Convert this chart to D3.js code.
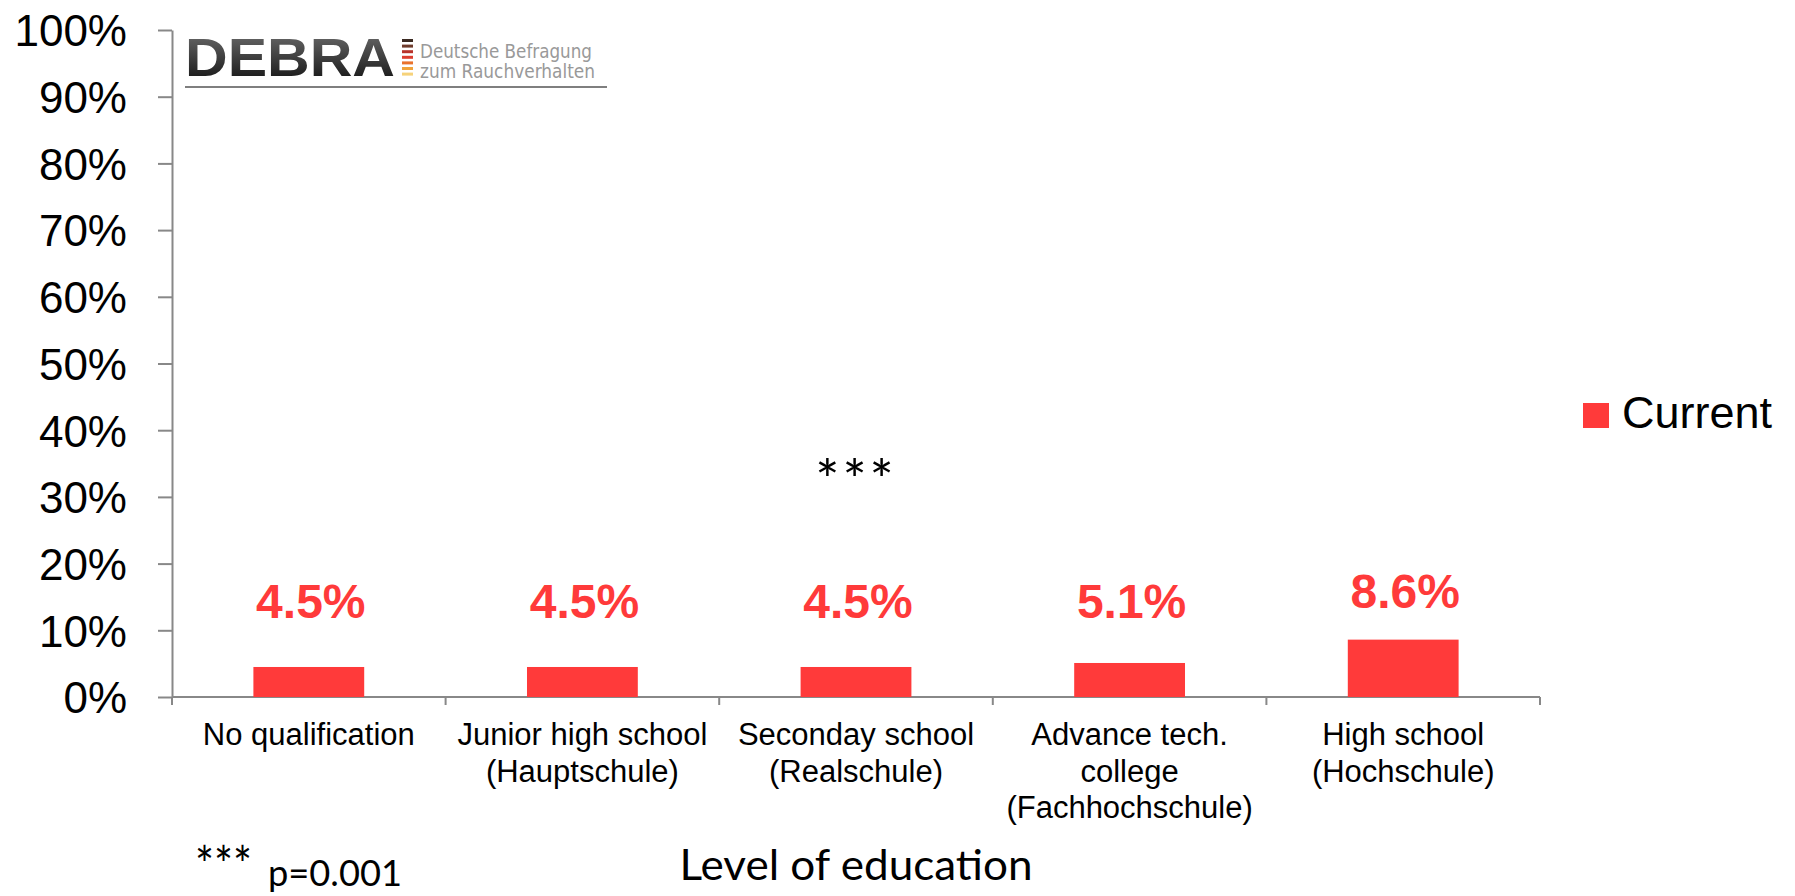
<!DOCTYPE html>
<html>
<head>
<meta charset="utf-8">
<script src="https://cdn.jsdelivr.net/npm/d3@7"></script>
<style>
  body { margin: 0; background: #fff; }
  svg { display: block; font-family: "Liberation Sans", Arial, sans-serif; }
</style>
</head>
<body>
<svg id="chart"></svg>
<script>
const categories = [
  ['No qualification'],
  ['Junior high school', '(Hauptschule)'],
  ['Seconday school', '(Realschule)'],
  ['Advance tech.', 'college', '(Fachhochschule)'],
  ['High school', '(Hochschule)']
];
const currentValues = [4.5, 4.5, 4.5, 5.1, 8.6];
const valueLabels = ['4.5%', '4.5%', '4.5%', '5.1%', '8.6%'];
const yTicks = [0, 10, 20, 30, 40, 50, 60, 70, 80, 90, 100];
const seriesName = 'Current';
const starCategory = 2;
const stripeColors = ['#3b2a22', '#6e3b2b', '#b8322a', '#dc3d2e', '#e9722d', '#f0a23a', '#f6d27a'];

const chartSize = {width: 1795, height: 896};
const plot = {left: 172, right: 1540, top: 30, bottom: 697};
const red = '#ff3a3a';
const axisColor = '#888888';
const starFont = 'Lato, "Open Sans", sans-serif';

const svg = d3.select('#chart')
    .attr('width', chartSize.width)
    .attr('height', chartSize.height);

const x = d3.scaleBand()
    .domain(d3.range(categories.length))
    .range([plot.left, plot.right])
    .paddingInner(0.595)
    .paddingOuter(0.2975);

const y = d3.scaleLinear()
    .domain([0, 100])
    .range([plot.bottom, plot.top]);

// y axis
const yAxis = svg.append('g')
    .attr('transform', `translate(${plot.left},0)`)
    .call(d3.axisLeft(y).tickValues(yTicks).tickSize(14).tickSizeOuter(0).tickPadding(31)
        .tickFormat(d => d + '%'));
yAxis.select('.domain').attr('stroke', axisColor).attr('stroke-width', 2);
yAxis.selectAll('.tick line').attr('stroke', axisColor).attr('stroke-width', 2);
yAxis.selectAll('.tick text')
    .attr('font-size', 44)
    .attr('font-family', '"Liberation Sans", Arial, sans-serif')
    .attr('fill', '#000')
    .attr('dy', '0.36em');

// x axis line with ticks at category boundaries
const step = x.step();
const boundaries = d3.range(categories.length + 1).map(i => plot.left + i * step);
svg.append('line')
    .attr('x1', plot.left).attr('x2', plot.right)
    .attr('y1', y(0)).attr('y2', y(0))
    .attr('stroke', axisColor).attr('stroke-width', 2);
svg.selectAll('.xtick')
    .data(boundaries)
    .join('line')
    .attr('class', 'xtick')
    .attr('x1', d => d).attr('x2', d => d)
    .attr('y1', y(0)).attr('y2', y(0) + 8)
    .attr('stroke', axisColor).attr('stroke-width', 2);

// bars
svg.selectAll('.bar')
    .data(currentValues)
    .join('rect')
    .attr('class', 'bar')
    .attr('x', (d, i) => x(i))
    .attr('y', d => y(d))
    .attr('width', x.bandwidth())
    .attr('height', d => y(0) - y(d))
    .attr('fill', red);

// value labels
svg.selectAll('.value')
    .data(currentValues)
    .join('text')
    .attr('class', 'value')
    .attr('x', (d, i) => x(i) + x.bandwidth() / 2 + 2)
    .attr('y', d => Math.min(y(11.8), y(d) - 32))
    .attr('text-anchor', 'middle')
    .attr('font-size', 48)
    .attr('font-weight', 'bold')
    .attr('fill', red)
    .text((d, i) => valueLabels[i]);

// category labels
const catLabels = svg.selectAll('.cat')
    .data(categories)
    .join('text')
    .attr('class', 'cat')
    .attr('text-anchor', 'middle')
    .attr('font-size', 31)
    .attr('fill', '#000');
catLabels.selectAll('tspan')
    .data((d, i) => d.map(line => ({line, i})))
    .join('tspan')
    .attr('x', d => x(d.i) + x.bandwidth() / 2)
    .attr('y', (d, j) => y(0) + 48 + j * 36.5)
    .text(d => d.line);

// significance mark
svg.append('text')
    .attr('x', x(starCategory) + x.bandwidth() / 2)
    .attr('y', y(29.5))
    .attr('text-anchor', 'middle')
    .attr('font-family', starFont)
    .attr('font-size', 57)
    .attr('letter-spacing', 3)
    .text('***');

// axis title and footnote
svg.append('text')
    .attr('x', (plot.left + plot.right) / 2)
    .attr('y', 880)
    .attr('text-anchor', 'middle')
    .attr('font-family', starFont)
    .attr('font-size', 42)
    .attr('textLength', 353)
    .attr('lengthAdjust', 'spacingAndGlyphs')
    .text('Level of education');

svg.append('text')
    .attr('x', 195)
    .attr('y', 883)
    .attr('font-family', starFont)
    .attr('font-size', 50)
    .attr('textLength', 57)
    .attr('lengthAdjust', 'spacingAndGlyphs')
    .text('***');
svg.append('text')
    .attr('x', 268)
    .attr('y', 886)
    .attr('font-family', starFont)
    .attr('font-size', 36)
    .attr('textLength', 134)
    .attr('lengthAdjust', 'spacingAndGlyphs')
    .text('p=0.001');

// legend
const legend = svg.append('g').attr('transform', 'translate(1583,403)');
legend.append('rect')
    .attr('width', 26).attr('height', 25)
    .attr('fill', red);
legend.append('text')
    .attr('x', 39).attr('y', 25)
    .attr('font-size', 45)
    .text(seriesName);

// DEBRA logo
const grad = svg.append('defs').append('linearGradient')
    .attr('id', 'debraGrad')
    .attr('x1', 0).attr('y1', 0).attr('x2', 0).attr('y2', 1);
grad.append('stop').attr('offset', '0%').attr('stop-color', '#707070');
grad.append('stop').attr('offset', '100%').attr('stop-color', '#0d0d0d');

const logo = svg.append('g').attr('transform', 'translate(185,0)');
logo.append('text')
    .attr('x', 0).attr('y', 76)
    .attr('font-size', 53)
    .attr('font-weight', 'bold')
    .attr('fill', 'url(#debraGrad)')
    .attr('textLength', 210)
    .attr('lengthAdjust', 'spacingAndGlyphs')
    .text('DEBRA');
logo.selectAll('.stripe')
    .data(stripeColors)
    .join('rect')
    .attr('class', 'stripe')
    .attr('x', 217)
    .attr('y', (d, i) => 39 + i * 5.6)
    .attr('width', 11)
    .attr('height', 3)
    .attr('fill', d => d);
logo.append('text')
    .attr('x', 235).attr('y', 58)
    .attr('font-family', '"DejaVu Sans Condensed", "Open Sans", sans-serif')
    .attr('font-size', 19)
    .attr('fill', '#999')
    .attr('textLength', 172)
    .attr('lengthAdjust', 'spacingAndGlyphs')
    .text('Deutsche Befragung');
logo.append('text')
    .attr('x', 235).attr('y', 78)
    .attr('font-family', '"DejaVu Sans Condensed", "Open Sans", sans-serif')
    .attr('font-size', 19)
    .attr('fill', '#999')
    .attr('textLength', 175)
    .attr('lengthAdjust', 'spacingAndGlyphs')
    .text('zum Rauchverhalten');
logo.append('line')
    .attr('x1', 0).attr('x2', 422)
    .attr('y1', 87).attr('y2', 87)
    .attr('stroke', '#555').attr('stroke-width', 1.5);
</script>
</body>
</html>
